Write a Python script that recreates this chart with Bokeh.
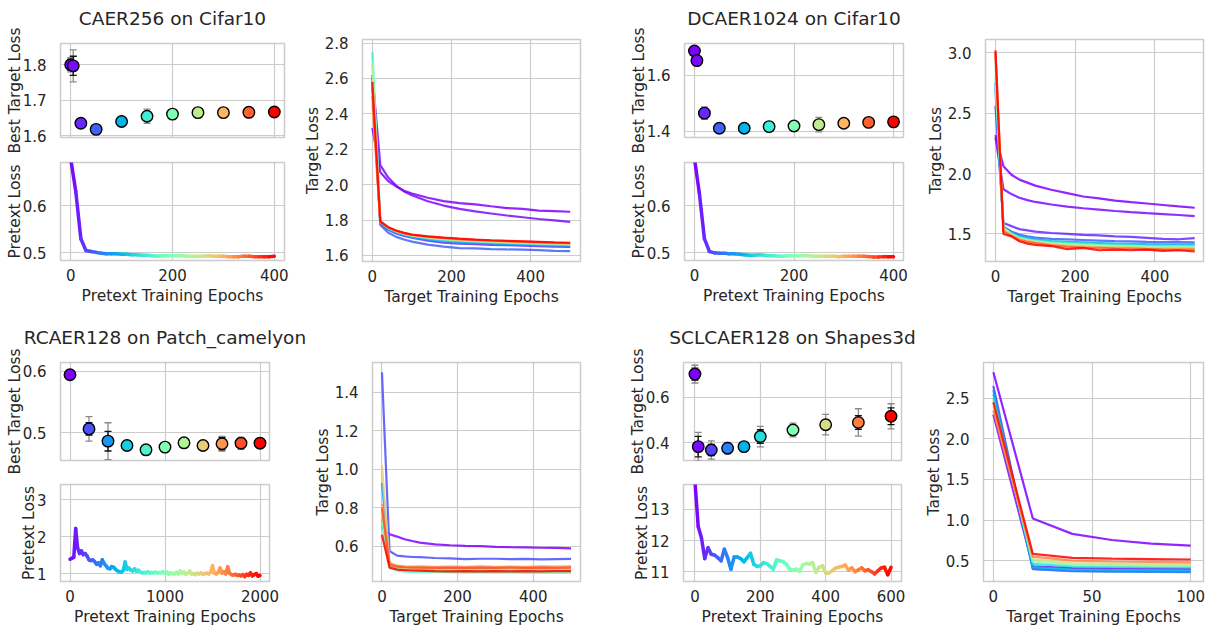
import math
from bokeh.plotting import figure
from bokeh.layouts import row, column
from bokeh.models import (ColumnDataSource, Whisker, TeeHead, FixedTicker, Range1d,
                          PrintfTickFormatter, Title, LinearAxis)
from bokeh.embed import file_html
from bokeh.resources import INLINE

# ---------------- data ----------------
TITLES = ["CAER256 on Cifar10", "DCAER1024 on Cifar10",
          "RCAER128 on Patch_camelyon", "SCLCAER128 on Shapes3d"]

# best target loss per pretext checkpoint (mean, black err, grey err)
P1_CKPT = [0, 5, 20, 50, 100, 150, 200, 250, 300, 350, 400]
P1_BEST = [1.800, 1.797, 1.635, 1.618, 1.640, 1.655, 1.661, 1.665, 1.665, 1.666, 1.667]
P1_ERR = [0.015, 0.027, 0.008, 0.005, 0.006, 0.010, 0.006, 0.005, 0.005, 0.005, 0.005]
P1_ERR2 = [0.020, 0.045, 0.012, 0.008, 0.009, 0.020, 0.008, 0.007, 0.007, 0.007, 0.008]

P2_CKPT = [0, 5, 20, 50, 100, 150, 200, 250, 300, 350, 400]
P2_BEST = [1.687, 1.653, 1.465, 1.411, 1.411, 1.417, 1.419, 1.424, 1.429, 1.432, 1.434]
P2_ERR = [0.006, 0.006, 0.015, 0.006, 0.007, 0.006, 0.008, 0.012, 0.008, 0.008, 0.006]
P2_ERR2 = [0.008, 0.008, 0.022, 0.008, 0.012, 0.008, 0.012, 0.026, 0.012, 0.014, 0.010]

P3_CKPT = [0, 200, 400, 600, 800, 1000, 1200, 1400, 1600, 1800, 2000]
P3_BEST = [0.5946, 0.5065, 0.4865, 0.4795, 0.4724, 0.4768, 0.4838, 0.4795, 0.4822, 0.4832, 0.4832]
P3_ERR = [0.005, 0.010, 0.016, 0.005, 0.005, 0.006, 0.004, 0.004, 0.010, 0.007, 0.006]
P3_ERR2 = [0.007, 0.020, 0.030, 0.007, 0.006, 0.007, 0.005, 0.004, 0.012, 0.010, 0.008]

P4_CKPT = [0, 10, 50, 100, 150, 200, 300, 400, 500, 600]
P4_BEST = [0.702, 0.384, 0.369, 0.377, 0.384, 0.428, 0.457, 0.480, 0.490, 0.517]
P4_ERR = [0.026, 0.045, 0.025, 0.018, 0.015, 0.030, 0.020, 0.020, 0.030, 0.037]
P4_ERR2 = [0.039, 0.062, 0.040, 0.025, 0.020, 0.045, 0.030, 0.045, 0.060, 0.055]

# pretext loss curves
P1_PRE_X = list(range(0, 401, 10))
P1_PRE_Y = [0.700, 0.630, 0.530, 0.505, 0.503, 0.501, 0.499, 0.498, 0.498, 0.498,
            0.497, 0.497, 0.496, 0.496, 0.495, 0.495, 0.494, 0.493, 0.494, 0.494,
            0.494, 0.494, 0.494, 0.493, 0.493, 0.493, 0.493, 0.494, 0.493, 0.493,
            0.493, 0.492, 0.492, 0.492, 0.493, 0.493, 0.492, 0.492, 0.492, 0.492, 0.493]
P2_PRE_X = list(range(0, 401, 10))
P2_PRE_Y = [0.700, 0.625, 0.530, 0.503, 0.500, 0.499, 0.499, 0.498, 0.498, 0.497,
            0.496, 0.495, 0.495, 0.496, 0.495, 0.494, 0.494, 0.493, 0.493, 0.494,
            0.494, 0.494, 0.494, 0.494, 0.493, 0.493, 0.493, 0.493, 0.493, 0.492,
            0.493, 0.493, 0.493, 0.493, 0.493, 0.492, 0.491, 0.491, 0.492, 0.492, 0.492]
P3_PRE_X = list(range(0, 2001, 20))
P3_PRE_Y = [1.40, 1.42, 1.45, 2.22, 1.70, 1.55, 1.62, 1.52, 1.55, 1.48,
            1.38, 1.36, 1.38, 1.33, 1.26, 1.30, 1.22, 1.38, 1.28, 1.22,
            1.15, 1.14, 1.20, 1.18, 1.12, 1.08, 1.06, 1.05, 1.09, 1.32,
            1.12, 1.16, 1.10, 1.08, 1.14, 1.07, 1.10, 1.05, 1.03, 1.04,
            1.03, 1.06, 1.02, 1.04, 1.03, 1.05, 1.02, 1.04, 1.03, 1.06,
            1.02, 1.05, 0.99, 1.03, 1.01, 1.00, 1.04, 1.00, 1.08, 1.02,
            1.05, 0.99, 1.02, 1.08, 1.00, 1.01, 0.98, 1.02, 1.00, 1.03,
            0.99, 1.01, 1.02, 1.00, 1.05, 1.22, 1.02, 1.00, 1.04, 1.16,
            1.02, 1.06, 1.00, 1.19, 1.02, 0.98, 0.97, 0.99, 0.96, 0.97,
            0.95, 0.98, 0.93, 0.99, 0.96, 1.03, 0.95, 0.98, 1.01, 0.94, 0.96]
P4_PRE_X = list(range(0, 601, 10))
P4_PRE_Y = [13.90, 12.45, 12.08, 11.42, 11.77, 11.56, 11.53, 11.45, 11.35, 11.72,
            11.45, 11.08, 11.47, 11.47, 11.42, 11.32, 11.45, 11.59, 11.24, 11.17,
            11.19, 11.29, 11.26, 11.17, 11.08, 11.38, 11.35, 11.32, 11.24, 11.08,
            11.05, 11.08, 11.01, 11.22, 11.26, 11.24, 11.29, 10.98, 11.14, 11.19,
            10.96, 10.96, 11.03, 11.11, 11.14, 11.17, 11.21, 11.05, 11.12, 11.00,
            11.06, 11.12, 11.03, 11.06, 11.00, 10.93, 11.03, 11.12, 11.14, 10.90, 11.14]

# target loss curves (one row per pretext checkpoint)
TGT_X = [0, 20, 40, 60, 80, 100, 140, 180, 220, 260, 300, 340, 380, 420, 460, 500]
P1_TGT = [
    [2.32, 2.07, 2.02, 1.99, 1.966, 1.950, 1.926, 1.907, 1.896, 1.889, 1.878, 1.868, 1.863, 1.853, 1.850, 1.847],
    [2.62, 2.11, 2.04, 1.995, 1.962, 1.940, 1.906, 1.882, 1.863, 1.849, 1.837, 1.826, 1.816, 1.806, 1.798, 1.790],
    [2.55, 1.780, 1.745, 1.724, 1.711, 1.700, 1.684, 1.672, 1.667, 1.664, 1.660, 1.658, 1.655, 1.652, 1.650, 1.648],
    [2.60, 1.772, 1.728, 1.705, 1.690, 1.678, 1.661, 1.650, 1.642, 1.640, 1.636, 1.634, 1.633, 1.630, 1.626, 1.625],
    [2.58, 1.785, 1.750, 1.730, 1.716, 1.705, 1.691, 1.683, 1.675, 1.672, 1.668, 1.664, 1.662, 1.660, 1.657, 1.655],
    [2.75, 1.790, 1.755, 1.735, 1.721, 1.710, 1.698, 1.690, 1.684, 1.678, 1.675, 1.672, 1.668, 1.665, 1.662, 1.660],
    [2.70, 1.790, 1.756, 1.737, 1.722, 1.712, 1.700, 1.692, 1.686, 1.681, 1.677, 1.674, 1.671, 1.668, 1.666, 1.664],
    [2.68, 1.795, 1.758, 1.738, 1.724, 1.714, 1.702, 1.694, 1.688, 1.683, 1.679, 1.676, 1.673, 1.670, 1.668, 1.666],
    [2.45, 1.790, 1.757, 1.738, 1.725, 1.716, 1.704, 1.697, 1.690, 1.686, 1.682, 1.679, 1.676, 1.673, 1.670, 1.668],
    [2.50, 1.790, 1.758, 1.740, 1.726, 1.717, 1.706, 1.699, 1.692, 1.688, 1.684, 1.681, 1.678, 1.675, 1.672, 1.670],
    [2.58, 1.792, 1.760, 1.741, 1.728, 1.718, 1.708, 1.701, 1.695, 1.690, 1.686, 1.683, 1.680, 1.677, 1.674, 1.672],
]
P2_TGT = [
    [2.32, 2.06, 1.990, 1.950, 1.925, 1.900, 1.866, 1.838, 1.810, 1.795, 1.776, 1.763, 1.752, 1.740, 1.728, 1.717],
    [2.30, 1.870, 1.830, 1.800, 1.780, 1.765, 1.744, 1.727, 1.713, 1.702, 1.690, 1.680, 1.672, 1.665, 1.657, 1.647],
    [2.56, 1.590, 1.565, 1.540, 1.530, 1.520, 1.508, 1.500, 1.492, 1.488, 1.480, 1.476, 1.468, 1.460, 1.456, 1.465],
    [2.75, 1.560, 1.520, 1.495, 1.480, 1.470, 1.460, 1.455, 1.450, 1.445, 1.440, 1.438, 1.435, 1.433, 1.432, 1.430],
    [2.70, 1.550, 1.510, 1.480, 1.465, 1.455, 1.440, 1.435, 1.430, 1.425, 1.420, 1.418, 1.416, 1.415, 1.414, 1.413],
    [2.75, 1.550, 1.500, 1.470, 1.455, 1.445, 1.430, 1.425, 1.418, 1.410, 1.410, 1.405, 1.400, 1.400, 1.398, 1.400],
    [2.80, 1.550, 1.500, 1.465, 1.450, 1.440, 1.425, 1.418, 1.410, 1.405, 1.400, 1.398, 1.395, 1.390, 1.392, 1.390],
    [2.90, 1.540, 1.495, 1.460, 1.445, 1.435, 1.420, 1.410, 1.405, 1.400, 1.395, 1.392, 1.390, 1.385, 1.388, 1.385],
    [2.98, 1.530, 1.490, 1.455, 1.440, 1.430, 1.410, 1.400, 1.395, 1.390, 1.385, 1.385, 1.380, 1.378, 1.380, 1.378],
    [3.00, 1.520, 1.485, 1.450, 1.435, 1.425, 1.405, 1.395, 1.388, 1.385, 1.380, 1.378, 1.375, 1.372, 1.370, 1.370],
    [3.02, 1.500, 1.480, 1.440, 1.420, 1.410, 1.400, 1.375, 1.385, 1.365, 1.370, 1.365, 1.370, 1.360, 1.365, 1.355],
]
P3_TGT = [
    [0.700, 0.663, 0.651, 0.637, 0.628, 0.620, 0.611, 0.606, 0.603, 0.601, 0.598, 0.596, 0.595, 0.593, 0.592, 0.590],
    [1.503, 0.576, 0.552, 0.548, 0.545, 0.544, 0.540, 0.538, 0.534, 0.536, 0.536, 0.534, 0.535, 0.533, 0.534, 0.535],
    [0.930, 0.500, 0.485, 0.480, 0.478, 0.477, 0.476, 0.475, 0.475, 0.474, 0.474, 0.474, 0.473, 0.473, 0.473, 0.473],
    [0.750, 0.505, 0.490, 0.485, 0.483, 0.482, 0.481, 0.480, 0.479, 0.479, 0.478, 0.478, 0.478, 0.477, 0.477, 0.477],
    [0.720, 0.490, 0.475, 0.470, 0.468, 0.467, 0.466, 0.466, 0.465, 0.465, 0.465, 0.465, 0.464, 0.464, 0.464, 0.464],
    [0.760, 0.492, 0.478, 0.472, 0.470, 0.469, 0.468, 0.468, 0.467, 0.467, 0.467, 0.466, 0.466, 0.466, 0.466, 0.466],
    [0.780, 0.500, 0.487, 0.482, 0.480, 0.479, 0.478, 0.478, 0.477, 0.477, 0.477, 0.477, 0.476, 0.476, 0.476, 0.476],
    [1.020, 0.510, 0.495, 0.490, 0.488, 0.487, 0.486, 0.486, 0.485, 0.485, 0.485, 0.485, 0.485, 0.485, 0.484, 0.484],
    [0.820, 0.515, 0.500, 0.497, 0.495, 0.496, 0.494, 0.495, 0.494, 0.496, 0.494, 0.495, 0.494, 0.496, 0.495, 0.497],
    [0.800, 0.505, 0.495, 0.492, 0.490, 0.490, 0.489, 0.490, 0.489, 0.490, 0.489, 0.490, 0.489, 0.490, 0.489, 0.490],
    [0.660, 0.490, 0.480, 0.477, 0.475, 0.474, 0.472, 0.471, 0.472, 0.471, 0.472, 0.471, 0.472, 0.471, 0.472, 0.472],
]
TGT4_X = [0, 20, 40, 60, 80, 100]
P4_TGT = [
    [2.82, 1.020, 0.830, 0.755, 0.710, 0.685],
    [2.30, 0.430, 0.410, 0.405, 0.403, 0.400],
    [2.65, 0.400, 0.375, 0.370, 0.368, 0.365],
    [2.60, 0.395, 0.370, 0.365, 0.362, 0.360],
    [2.55, 0.420, 0.390, 0.385, 0.382, 0.380],
    [2.50, 0.460, 0.430, 0.425, 0.420, 0.418],
    [2.45, 0.490, 0.450, 0.445, 0.440, 0.438],
    [2.40, 0.520, 0.470, 0.465, 0.460, 0.455],
    [2.35, 0.550, 0.500, 0.490, 0.485, 0.480],
    [2.45, 0.585, 0.535, 0.525, 0.520, 0.515],
]

# ---------------- style ----------------
FONT = "DejaVu Sans"
TXT = "#262626"
GRID = "#cccccc"


def rainbow(t):
    t = min(max(t, 0.0), 1.0)
    r = min(max(abs(2 * t - 0.5), 0.0), 1.0)
    g = min(max(math.sin(math.pi * t), 0.0), 1.0)
    b = min(max(math.cos(math.pi * t / 2), 0.0), 1.0)
    return "#%02x%02x%02x" % (int(round(r * 255)), int(round(g * 255)), int(round(b * 255)))


def make_fig(w, h, l, r, t, b, xr, yr, xticks, yticks, xlabel=None, ylabel=None,
             title=None, show_x=True, yfmt=None, ylab_off=-4):
    p = figure(width=w, height=h, x_range=Range1d(*xr), y_range=Range1d(*yr),
               output_backend="svg", toolbar_location=None, title=None,
               min_border_left=l, min_border_right=r, min_border_top=t, min_border_bottom=b,
               background_fill_color="white", border_fill_color="white")
    p.outline_line_color = GRID
    p.outline_line_width = 1.5
    p.xaxis.ticker = FixedTicker(ticks=xticks)
    p.yaxis.ticker = FixedTicker(ticks=yticks)
    p.xgrid.ticker = FixedTicker(ticks=xticks)
    p.ygrid.ticker = FixedTicker(ticks=yticks)
    p.grid.grid_line_color = GRID
    p.grid.grid_line_width = 1.2
    if yfmt:
        p.yaxis.formatter = PrintfTickFormatter(format=yfmt)
    for ax in (p.xaxis, p.yaxis):
        ax.axis_line_color = None
        ax.major_tick_line_color = None
        ax.minor_tick_line_color = None
        ax.major_label_text_font = FONT
        ax.major_label_text_font_size = "15px"
        ax.major_label_text_color = TXT
        ax.axis_label_text_font = FONT
        ax.axis_label_text_font_size = "15.5px"
        ax.axis_label_text_font_style = "normal"
        ax.axis_label_text_color = TXT
    p.xaxis.major_label_standoff = 2
    p.xaxis.axis_label_standoff = 3
    p.yaxis.major_label_standoff = 8
    p.yaxis.axis_label_standoff = ylab_off
    if xlabel:
        p.xaxis.axis_label = xlabel
    if ylabel:
        p.yaxis.axis_label = ylabel
    if not show_x:
        p.xaxis.visible = False
    if title is not None:
        # thin invisible strip between frame and title
        spacer = LinearAxis(ticker=FixedTicker(ticks=[]), axis_line_color=None,
                            major_tick_line_color=None, minor_tick_line_color=None,
                            major_tick_out=0, minor_tick_out=0, major_label_standoff=0,
                            major_label_text_font_size="0px", axis_label=" ",
                            axis_label_text_font_size="1px", axis_label_standoff=6,
                            axis_label_text_color=None)
        p.add_layout(spacer, "above")
        p.add_layout(Title(text=title, align="center", text_font=FONT,
                           text_font_size="18.5px", text_font_style="normal",
                           text_color=TXT), "above")
    return p


def add_best(p, ck, best, err, err2):
    mx = max(ck)
    src = ColumnDataSource(dict(
        x=ck, y=best,
        lo=[v - e for v, e in zip(best, err)], hi=[v + e for v, e in zip(best, err)],
        lo2=[v - e for v, e in zip(best, err2)], hi2=[v + e for v, e in zip(best, err2)],
        c=[rainbow(v / mx) for v in ck]))
    for lo, hi, col in (("lo2", "hi2", "#8a8a8a"), ("lo", "hi", "#111111")):
        wk = Whisker(base="x", lower=lo, upper=hi, source=src, dimension="height",
                     line_color=col, line_width=1.3,
                     upper_head=TeeHead(size=7, line_color=col, line_width=1.3),
                     lower_head=TeeHead(size=7, line_color=col, line_width=1.3))
        p.add_layout(wk)
    p.scatter("x", "y", source=src, size=11.5, fill_color="c", line_color="black",
              line_width=1.4)


def add_pretext(p, xs, ys):
    mx = max(xs)
    src = ColumnDataSource(dict(
        x0=xs[:-1], y0=ys[:-1], x1=xs[1:], y1=ys[1:],
        c=[rainbow(0.5 * (a + b) / mx) for a, b in zip(xs[:-1], xs[1:])]))
    p.segment("x0", "y0", "x1", "y1", source=src, line_color="c", line_width=3.5,
              line_cap="round")


def add_targets(p, tx, curves, ck):
    mx = max(ck)
    src = ColumnDataSource(dict(xs=[tx] * len(curves), ys=curves,
                                c=[rainbow(v / mx) for v in ck]))
    p.multi_line("xs", "ys", source=src, line_color="c", line_width=2.2, line_alpha=0.85)


# ---------------- panels ----------------
# group 1
S1 = make_fig(300, 156, 60, 16, 39, 19, (-20, 420), (1.595, 1.86), [0, 200, 400],
              [1.6, 1.7, 1.8], ylabel="Best Target Loss", title=TITLES[0], show_x=False)
add_best(S1, P1_CKPT, P1_BEST, P1_ERR, P1_ERR2)
R1 = make_fig(300, 158, 60, 16, 6, 54, (-20, 420), (0.4838, 0.6915), [0, 200, 400],
              [0.5, 0.6], xlabel="Pretext Training Epochs", ylabel="Pretext Loss")
add_pretext(R1, P1_PRE_X, P1_PRE_Y)
T1 = make_fig(300, 314, 56, 20, 39, 53, (-25, 526), (1.566, 2.82), [0, 200, 400],
              [1.6, 1.8, 2.0, 2.2, 2.4, 2.6, 2.8], xlabel="Target Training Epochs",
              ylabel="Target Loss", yfmt="%.1f", ylab_off=0)
add_targets(T1, TGT_X, P1_TGT, P1_CKPT)

# group 2
S2 = make_fig(310, 156, 84, 7, 39, 19, (-20, 420), (1.378, 1.714), [0, 200, 400],
              [1.4, 1.6], ylabel="Best Target Loss", title=TITLES[1], show_x=False)
add_best(S2, P2_CKPT, P2_BEST, P2_ERR, P2_ERR2)
R2 = make_fig(310, 158, 84, 7, 6, 54, (-20, 420), (0.4838, 0.6915), [0, 200, 400],
              [0.5, 0.6], xlabel="Pretext Training Epochs", ylabel="Pretext Loss")
add_pretext(R2, P2_PRE_X, P2_PRE_Y)
T2 = make_fig(298, 314, 75, 5, 39, 53, (-25, 522), (1.272, 3.11), [0, 200, 400],
              [1.5, 2.0, 2.5, 3.0], xlabel="Target Training Epochs", ylabel="Target Loss",
              yfmt="%.1f", ylab_off=0)
add_targets(T2, TGT_X, P2_TGT, P2_CKPT)

# group 3
S3 = make_fig(310, 164, 60, 41, 48, 18, (-100, 2100), (0.455, 0.6146), [0, 1000, 2000],
              [0.5, 0.6], ylabel="Best Target Loss", title=TITLES[2], show_x=False)
add_best(S3, P3_CKPT, P3_BEST, P3_ERR, P3_ERR2)
R3 = make_fig(310, 150, 60, 41, 6, 45, (-100, 2100), (0.797, 3.405), [0, 1000, 2000],
              [1, 2, 3], xlabel="Pretext Training Epochs", ylabel="Pretext Loss")
add_pretext(R3, P3_PRE_X, P3_PRE_Y)
T3 = make_fig(290, 314, 61, 20, 48, 45, (-25, 525), (0.418, 1.554), [0, 200, 400],
              [0.6, 0.8, 1.0, 1.2, 1.4], xlabel="Target Training Epochs", ylabel="Target Loss",
              yfmt="%.1f", ylab_off=0)
add_targets(T3, TGT_X, P3_TGT, P3_CKPT)

# group 4
S4 = make_fig(316, 164, 83, 15, 48, 18, (-35, 632), (0.323, 0.753), [0, 200, 400, 600],
              [0.4, 0.6], ylabel="Best Target Loss", title=TITLES[3], show_x=False)
add_best(S4, P4_CKPT, P4_BEST, P4_ERR, P4_ERR2)
R4 = make_fig(316, 150, 83, 15, 6, 45, (-35, 632), (10.684, 13.8), [0, 200, 400, 600],
              [11, 12, 13], xlabel="Pretext Training Epochs", ylabel="Pretext Loss")
add_pretext(R4, P4_PRE_X, P4_PRE_Y)
T4 = make_fig(292, 314, 67, 5, 48, 45, (-5, 106.5), (0.244, 2.939), [0, 50, 100],
              [0.5, 1.0, 1.5, 2.0, 2.5], xlabel="Target Training Epochs", ylabel="Target Loss",
              yfmt="%.1f", ylab_off=0)
add_targets(T4, TGT4_X, P4_TGT, P4_CKPT)

top = row(column(S1, R1), T1, column(S2, R2), T2)
bot = row(column(S3, R3), T3, column(S4, R4), T4)
layout = column(top, bot)

open("out.html", "w").write(file_html(layout, INLINE))
